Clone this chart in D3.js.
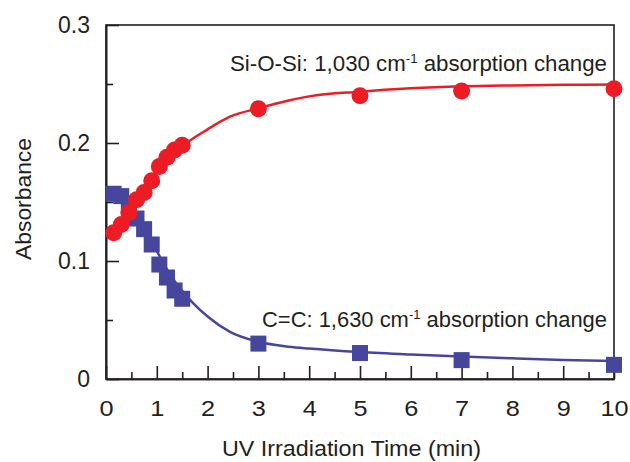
<!DOCTYPE html>
<html>
<head>
<meta charset="utf-8">
<script src="https://cdn.jsdelivr.net/npm/d3@7"></script>
<style>
  body { margin: 0; background: #fff; }
  text { font-family: "Liberation Sans", Arial, sans-serif; fill: #231f20; }
</style>
</head>
<body>
<div id="chart"></div>
<script>
// measured points (time in min, absorbance)
var sampleTime = [0.15, 0.3, 0.45, 0.6, 0.75, 0.9, 1.05, 1.2, 1.35, 1.5, 3, 5, 7, 10];
var siAbs = [0.124, 0.131, 0.141, 0.152, 0.158, 0.168, 0.180, 0.188, 0.194, 0.198, 0.229, 0.240, 0.244, 0.246];
var ccAbs = [0.157, 0.155, 0.146, 0.136, 0.127, 0.114, 0.097, 0.086, 0.075, 0.068, 0.030, 0.022, 0.016, 0.012];

// fitted curves
var siFitTime = [0.15, 0.45, 0.75, 1.05, 1.5, 2, 2.44, 3, 3.6, 4, 5, 6, 7, 8, 9, 10];
var siFitAbs = [0.124, 0.141, 0.159, 0.177, 0.197, 0.2116, 0.2223, 0.2294, 0.236, 0.2395, 0.2435, 0.2463, 0.248, 0.2488, 0.2493, 0.2496];
var ccFitTime = [0.15, 0.3, 0.53, 0.8, 1.03, 1.3, 1.7, 2, 2.44, 3, 3.6, 4, 5, 6, 7, 8, 9, 10];
var ccFitAbs = [0.160, 0.156, 0.145, 0.125, 0.106, 0.086, 0.065, 0.053, 0.040, 0.0316, 0.0274, 0.0258, 0.0228, 0.0207, 0.019, 0.0175, 0.0162, 0.0152];

var xMajor = [0, 1, 2, 3, 4, 5, 6, 7, 8, 9, 10];
var xMinor = [0.5, 1.5, 2.5, 3.5, 4.5, 5.5, 6.5, 7.5, 8.5, 9.5];
var yMajor = [0, 0.1, 0.2, 0.3];
var yMinor = [0.05, 0.15, 0.25];

var svgWidth = 630;
var svgHeight = 462;
var margin = { top: 25, right: 16, bottom: 83, left: 106 };
var width = svgWidth - margin.left - margin.right;
var height = svgHeight - margin.top - margin.bottom;

var red = "#ed1c24";
var blue = "#46479c";
var ink = "#231f20";

var svg = d3.select("#chart").append("svg")
    .attr("width", svgWidth)
    .attr("height", svgHeight);

var g = svg.append("g")
    .attr("transform", `translate(${margin.left}, ${margin.top})`);

var x = d3.scaleLinear().domain([0, 10]).range([0, width]);
var y = d3.scaleLinear().domain([0, 0.3]).range([height, 0]);

// axes, ticks pointing inward
var xAxis = g.append("g")
    .attr("transform", `translate(0, ${height})`)
    .call(d3.axisBottom(x).tickValues(xMajor).tickSizeInner(-13).tickSizeOuter(0).tickPadding(21).tickFormat(d3.format("d")));
g.append("g")
    .attr("transform", `translate(0, ${height})`)
    .call(d3.axisBottom(x).tickValues(xMinor).tickSizeInner(-7).tickSizeOuter(0).tickFormat(""));

var yAxis = g.append("g")
    .call(d3.axisLeft(y).tickValues(yMajor).tickSizeInner(-13).tickSizeOuter(0).tickPadding(16)
      .tickFormat(d => d === 0 ? "0" : d3.format(".1f")(d)));
g.append("g")
    .call(d3.axisLeft(y).tickValues(yMinor).tickSizeInner(-7).tickSizeOuter(0).tickFormat(""));

g.selectAll(".domain, .tick line").attr("stroke", ink).attr("stroke-width", 1.6);
g.selectAll(".tick text").attr("font-size", "22px").attr("fill", ink);
// the reference lettering is a little wider than Liberation Sans
xAxis.selectAll(".tick text").attr("transform", "scale(1.15,1)");
yAxis.selectAll(".tick text").attr("font-size", "23px");

// frame
g.append("rect")
    .attr("width", width).attr("height", height)
    .attr("fill", "none").attr("stroke", ink).attr("stroke-width", 1.6);

// fitted curves
var line = d3.line()
    .x(d => x(d[0]))
    .y(d => y(d[1]))
    .curve(d3.curveMonotoneX);

g.append("path")
    .datum(siFitTime.map((t, i) => [t, siFitAbs[i]]))
    .attr("d", line).attr("fill", "none").attr("stroke", red).attr("stroke-width", 2.5);
g.append("path")
    .datum(ccFitTime.map((t, i) => [t, ccFitAbs[i]]))
    .attr("d", line).attr("fill", "none").attr("stroke", blue).attr("stroke-width", 2.5);

// markers
var sq = 16;
g.selectAll(".cc")
    .data(sampleTime.map((t, i) => [t, ccAbs[i]]))
    .enter().append("rect")
    .attr("x", d => x(d[0]) - sq / 2)
    .attr("y", d => y(d[1]) - sq / 2)
    .attr("width", sq).attr("height", sq)
    .attr("fill", blue);

g.selectAll(".si")
    .data(sampleTime.map((t, i) => [t, siAbs[i]]))
    .enter().append("circle")
    .attr("cx", d => x(d[0]))
    .attr("cy", d => y(d[1]))
    .attr("r", 8.5)
    .attr("fill", red);

// annotations
function label(txt, tail, xPos, yPos, len) {
  var t = g.append("text")
      .attr("x", xPos).attr("y", yPos)
      .attr("font-size", "22px")
      .attr("textLength", len)
      .attr("lengthAdjust", "spacingAndGlyphs");
  t.append("tspan").text(txt);
  t.append("tspan").attr("font-size", "13px").attr("dy", -8).text("-1");
  t.append("tspan").attr("dy", 8).text(tail);
}
label("Si-O-Si: 1,030 cm", " absorption change", 124, 46, 377);
label("C=C: 1,630 cm", " absorption change", 156, 302, 345);

// axis titles
svg.append("text")
    .attr("x", 222)
    .attr("y", 456)
    .attr("font-size", "22px")
    .attr("textLength", 259)
    .attr("lengthAdjust", "spacingAndGlyphs")
    .text("UV Irradiation Time (min)");

svg.append("text")
    .attr("transform", "rotate(-90)")
    .attr("x", -260)
    .attr("y", 31)
    .attr("font-size", "22px")
    .attr("textLength", 122)
    .attr("lengthAdjust", "spacingAndGlyphs")
    .text("Absorbance");
</script>
</body>
</html>
